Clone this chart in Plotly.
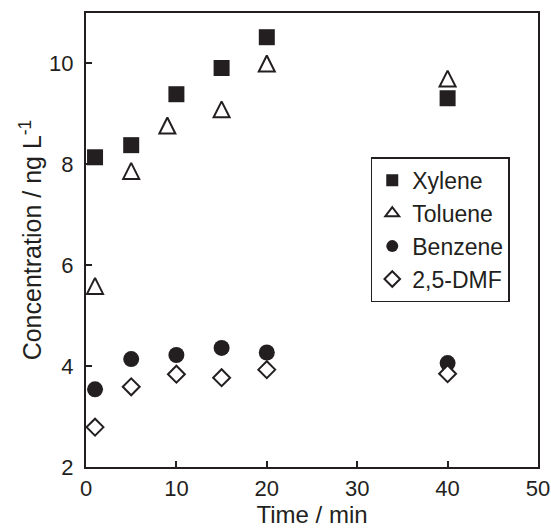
import plotly.graph_objects as go

# Data
xylene_t = [1, 5, 10, 15, 20, 40]
xylene_c = [8.14, 8.38, 9.39, 9.91, 10.52, 9.31]

toluene_t = [1, 5, 9, 15, 20, 40]
toluene_c = [5.59, 7.87, 8.77, 9.09, 10.0, 9.70]

benzene_t = [1, 5, 10, 15, 20, 40]
benzene_c = [3.54, 4.14, 4.22, 4.36, 4.27, 4.06]

dmf_t = [1, 5, 10, 15, 20, 40]
dmf_c = [2.79, 3.59, 3.84, 3.77, 3.93, 3.85]

x_ticks = [0, 10, 20, 30, 40, 50]
y_ticks = [2, 4, 6, 8, 10]

INK = "#231f20"
FONT = "Liberation Sans, Arial, Helvetica, sans-serif"

fig = go.Figure()

fig.add_trace(go.Scatter(
    x=xylene_t, y=xylene_c, mode="markers", name="Xylene", legendrank=1,
    marker=dict(symbol="square", size=16, color=INK, line=dict(width=0, color=INK)),
))
# Toluene points: tall open triangle (arrow symbol rotated and centred on the value)
fig.add_trace(go.Scatter(
    x=toluene_t, y=toluene_c, mode="markers", name="Toluene",
    showlegend=False,
    marker=dict(symbol="arrow-down", angle=180, standoff=8, size=16,
                color="white", line=dict(width=2, color=INK)),
))
# legend entry for Toluene (small open triangle as in the reference legend)
fig.add_trace(go.Scatter(
    x=[None], y=[None], mode="markers", name="Toluene", legendrank=2,
    marker=dict(symbol="triangle-up", size=12, color="white", line=dict(width=1.5, color=INK)),
))
fig.add_trace(go.Scatter(
    x=benzene_t, y=benzene_c, mode="markers", name="Benzene", legendrank=3,
    marker=dict(symbol="circle", size=16, color=INK, line=dict(width=0, color=INK)),
))
fig.add_trace(go.Scatter(
    x=dmf_t, y=dmf_c, mode="markers", name="2,5-DMF", legendrank=4,
    marker=dict(symbol="diamond", size=13, color="white", line=dict(width=2, color=INK)),
))

axis_common = dict(
    showline=True, linecolor=INK, linewidth=2, mirror=True,
    ticks="inside", ticklen=6, tickwidth=1.5, tickcolor=INK,
    showgrid=False, zeroline=False, automargin=False,
    ticklabeloverflow="allow",
    tickfont=dict(family=FONT, size=22, color=INK),
)

fig.update_layout(
    width=551, height=528,
    margin=dict(l=86, r=13, t=13, b=61),
    paper_bgcolor="white", plot_bgcolor="white",
    font=dict(family=FONT, color=INK),
    xaxis=dict(range=[0, 50], tickvals=x_ticks, ticklabelstandoff=1,
               title=dict(text="Time / min", font=dict(family=FONT, size=24, color=INK), standoff=6),
               **axis_common),
    yaxis=dict(range=[2, 11], tickvals=y_ticks, ticklabelstandoff=6,
               title=dict(text="Concentration / ng L<sup>-1</sup>", font=dict(family=FONT, size=25, color=INK), standoff=0),
               **axis_common),
    legend=dict(
        x=0.63, y=0.682, xanchor="left", yanchor="top",
        bgcolor="white", bordercolor=INK, borderwidth=1.5,
        font=dict(family=FONT, size=23, color=INK),
        itemsizing="constant", itemwidth=30, tracegroupgap=0,
    ),
    showlegend=True,
)

fig.write_html("out.html")
